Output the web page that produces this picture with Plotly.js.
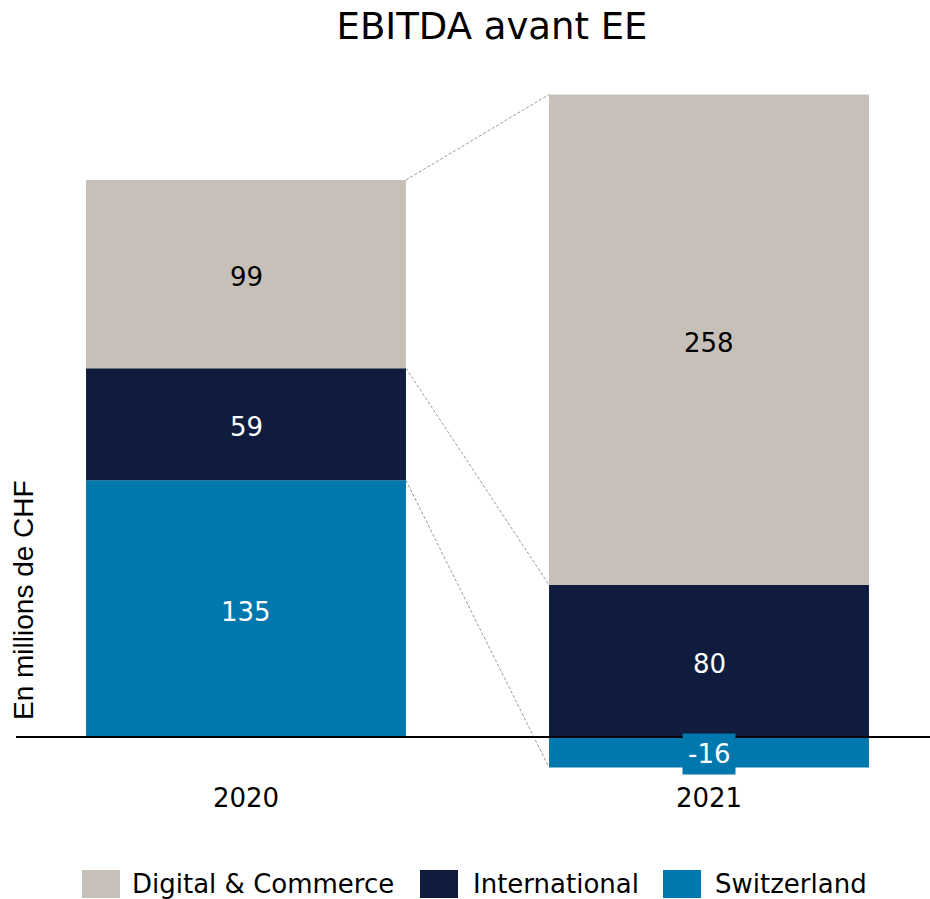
<!DOCTYPE html>
<html>
<head>
<meta charset="utf-8">
<script src="https://cdn.plot.ly/plotly-3.0.1.min.js"></script>
<style>html,body{margin:0;padding:0;background:#fff;}#chart{width:930px;height:899px;}</style>
</head>
<body>
<div id="chart"></div>
<script>
// ---- data ----
const categories = ['2020', '2021'];
const seriesNames = ['Switzerland', 'International', 'Digital & Commerce'];
const switzerland = [135, -16];
const international = [59, 80];
const digitalCommerce = [99, 258];
const chartTitle = 'EBITDA avant EE';
const yTitle = 'En millions de CHF';

// ---- styles ----
const seriesValues = [switzerland, international, digitalCommerce];
const colors = ['#0077AD', '#0F1C3D', '#C7C0B9'];
const labelColors = ['#FFFFFF', '#FFFFFF', '#000000'];
const FONT = 'DejaVu Sans, Verdana, sans-serif';
const W = 930, H = 899;
const M = {l: 16, r: 0, t: 80, b: 124};
const plotW = W - M.l - M.r, plotH = H - M.t - M.b;
const barWidth = 0.691;
const px2x = px => (px - M.l) / plotW;
const px2y = py => (H - M.b - py) / plotH;

const traces = seriesNames.map((name, i) => ({
  type: 'bar',
  name: name,
  x: categories,
  y: seriesValues[i],
  width: barWidth,
  marker: {color: colors[i], line: {width: 0}},
  hoverinfo: 'skip',
  showlegend: false
}));

// stacked positions (relative mode)
const annotations = [];
const shapes = [];
const outer = seriesNames.map(() => []);
categories.forEach((c, j) => {
  let pos = 0, neg = 0;
  seriesValues.forEach((vals, i) => {
    const v = vals[j];
    let mid;
    if (v >= 0) { mid = pos + v / 2; pos += v; outer[i][j] = pos; }
    else { mid = neg + v / 2; neg += v; outer[i][j] = neg; }
    const a = {
      x: j, y: mid, xref: 'x', yref: 'y', text: String(v), showarrow: false,
      font: {family: FONT, size: 26, color: labelColors[i]},
      xanchor: 'center', yanchor: 'middle', yshift: -3
    };
    if (v < 0) { a.bgcolor = colors[i]; a.borderpad = 5; a.yshift = -2; }
    annotations.push(a);
  });
});

// connector dashed lines between bars
seriesNames.forEach((n, i) => {
  shapes.push({
    type: 'line', xref: 'x', yref: 'y', layer: 'below',
    x0: 0 + barWidth / 2, x1: 1 - barWidth / 2,
    y0: outer[i][0], y1: outer[i][1],
    line: {color: '#999999', width: 1, dash: '3px,2px'}
  });
});

// zero line
shapes.push({
  type: 'line', xref: 'paper', yref: 'y', x0: 0, x1: 1, y0: 0, y1: 0,
  line: {color: '#000000', width: 2}, layer: 'above'
});

// y title
annotations.push({
  text: yTitle, xref: 'paper', yref: 'paper', x: px2x(23), y: px2y(600),
  textangle: -90, showarrow: false, xanchor: 'center', yanchor: 'middle',
  font: {family: 'Liberation Sans, Arial, sans-serif', size: 28, color: '#000'}
});

// legend (manual, large rectangular swatches)
const legendOrder = [2, 1, 0];
const legendSwatchX = [82, 420, 663];
const legendTextX = [130, 471, 713];
legendOrder.forEach((i, k) => {
  shapes.push({
    type: 'rect', xref: 'paper', yref: 'paper',
    x0: px2x(legendSwatchX[k]), x1: px2x(legendSwatchX[k] + 38),
    y0: px2y(898), y1: px2y(870),
    fillcolor: colors[i], line: {width: 0}
  });
  annotations.push({
    text: seriesNames[i], xref: 'paper', yref: 'paper',
    x: px2x(legendTextX[k]), y: px2y(884), showarrow: false,
    xanchor: 'left', yanchor: 'middle',
    font: {family: FONT, size: 26, color: '#000'}
  });
});

const zeroPx = 737, pxPerUnit = 1.901;
const layout = {
  width: W, height: H,
  margin: M,
  paper_bgcolor: '#fff', plot_bgcolor: '#fff',
  font: {family: FONT, color: '#000'},
  title: {text: chartTitle, font: {family: FONT, size: 37, color: '#000'},
          x: 492 / W, xref: 'container', xanchor: 'center',
          y: 1 - 26 / H, yref: 'container', yanchor: 'middle'},
  barmode: 'relative',
  bargap: 0.3,
  showlegend: false,
  xaxis: {
    type: 'category', range: [-(246 - M.l) / 463, (W - M.r - 246) / 463],
    showgrid: false, zeroline: false, showline: false, ticks: '',
    ticklabelstandoff: 5,
    tickfont: {family: FONT, size: 26, color: '#000'}, automargin: false, fixedrange: true
  },
  yaxis: {
    range: [-(H - M.b - zeroPx) / pxPerUnit, (zeroPx - M.t) / pxPerUnit],
    showgrid: false, zeroline: false, showline: false, showticklabels: false, ticks: '',
    automargin: false, fixedrange: true
  },
  shapes: shapes,
  annotations: annotations
};

Plotly.newPlot('chart', traces, layout, {displayModeBar: false, staticPlot: true});
</script>
</body>
</html>
